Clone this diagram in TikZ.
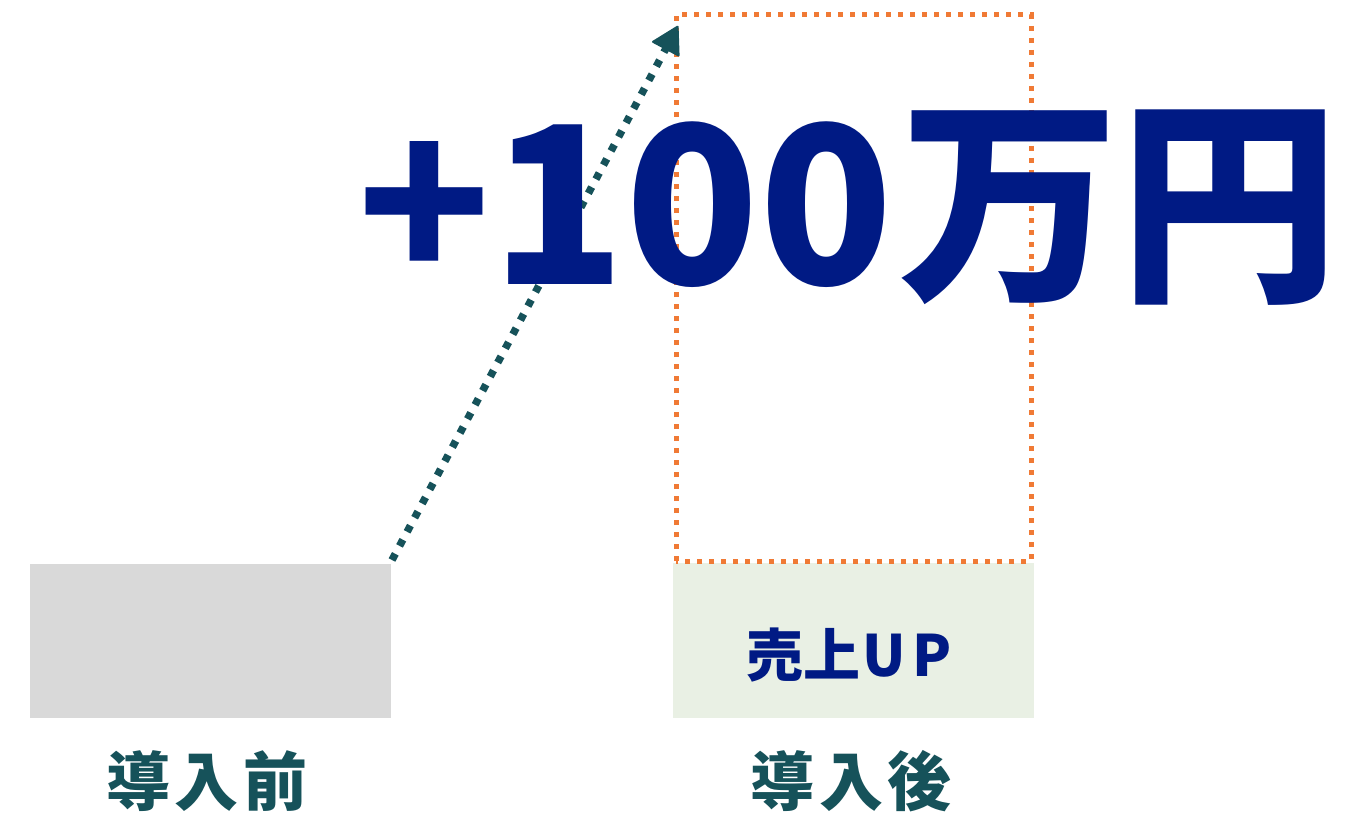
\documentclass[tikz,border=0pt]{standalone}
\usepackage{fontspec}
\newfontfamily\cjk{Noto Sans CJK JP}
\usetikzlibrary{arrows.meta}
\definecolor{navy}{HTML}{001A84}
\definecolor{teal}{HTML}{16525A}
\definecolor{orng}{HTML}{F07A35}
\definecolor{grayfill}{HTML}{D9D9D9}
\definecolor{greenfill}{HTML}{E9F0E4}
\tikzset{
  lbl/.style={text=teal, font=\cjk\bfseries\fontsize{64}{64}\selectfont, inner sep=0pt},
}
\begin{document}
\begin{tikzpicture}[x=1pt,y=-1pt]
\useasboundingbox (0,0) rectangle (1364,813);
\fill[white] (0,0) rectangle (1364,813);
% before bar
\fill[grayfill] (30,564) rectangle (391,718);
\coordinate (bstart) at (392,560);
% after bar
\fill[greenfill] (673,563) rectangle (1034,718);
\node[text=navy, font=\cjk\bfseries\fontsize{57}{57}\selectfont, inner sep=0pt] (up) at (849,655) {売上\kern2pt U\kern7pt P};
% orange dotted target
\draw[orng, line width=5pt, dash pattern=on 5pt off 7pt] (676,561) -- (676,15) -- (1031,15) -- (1031,561) -- cycle;
\coordinate (aend) at (679,24);
% arrow
\draw[teal, line width=7.5pt, dash pattern=on 7pt off 9pt, shorten >=2pt,
  -{Triangle[round, length=28pt, width=32pt, line width=2pt]}] (bstart) -- (aend);
% big text
\node[text=navy, font=\cjk\bfseries\fontsize{220}{220}\selectfont, inner sep=0pt, anchor=base west] (big) at (357,284) {+100\kern6pt 万円};
% labels
\node[lbl] (before) at (207,781) {導\kern5pt 入\kern5pt 前};
\node[lbl] (after) at (851,781) {導\kern5pt 入\kern5pt 後};
\end{tikzpicture}
\end{document}
